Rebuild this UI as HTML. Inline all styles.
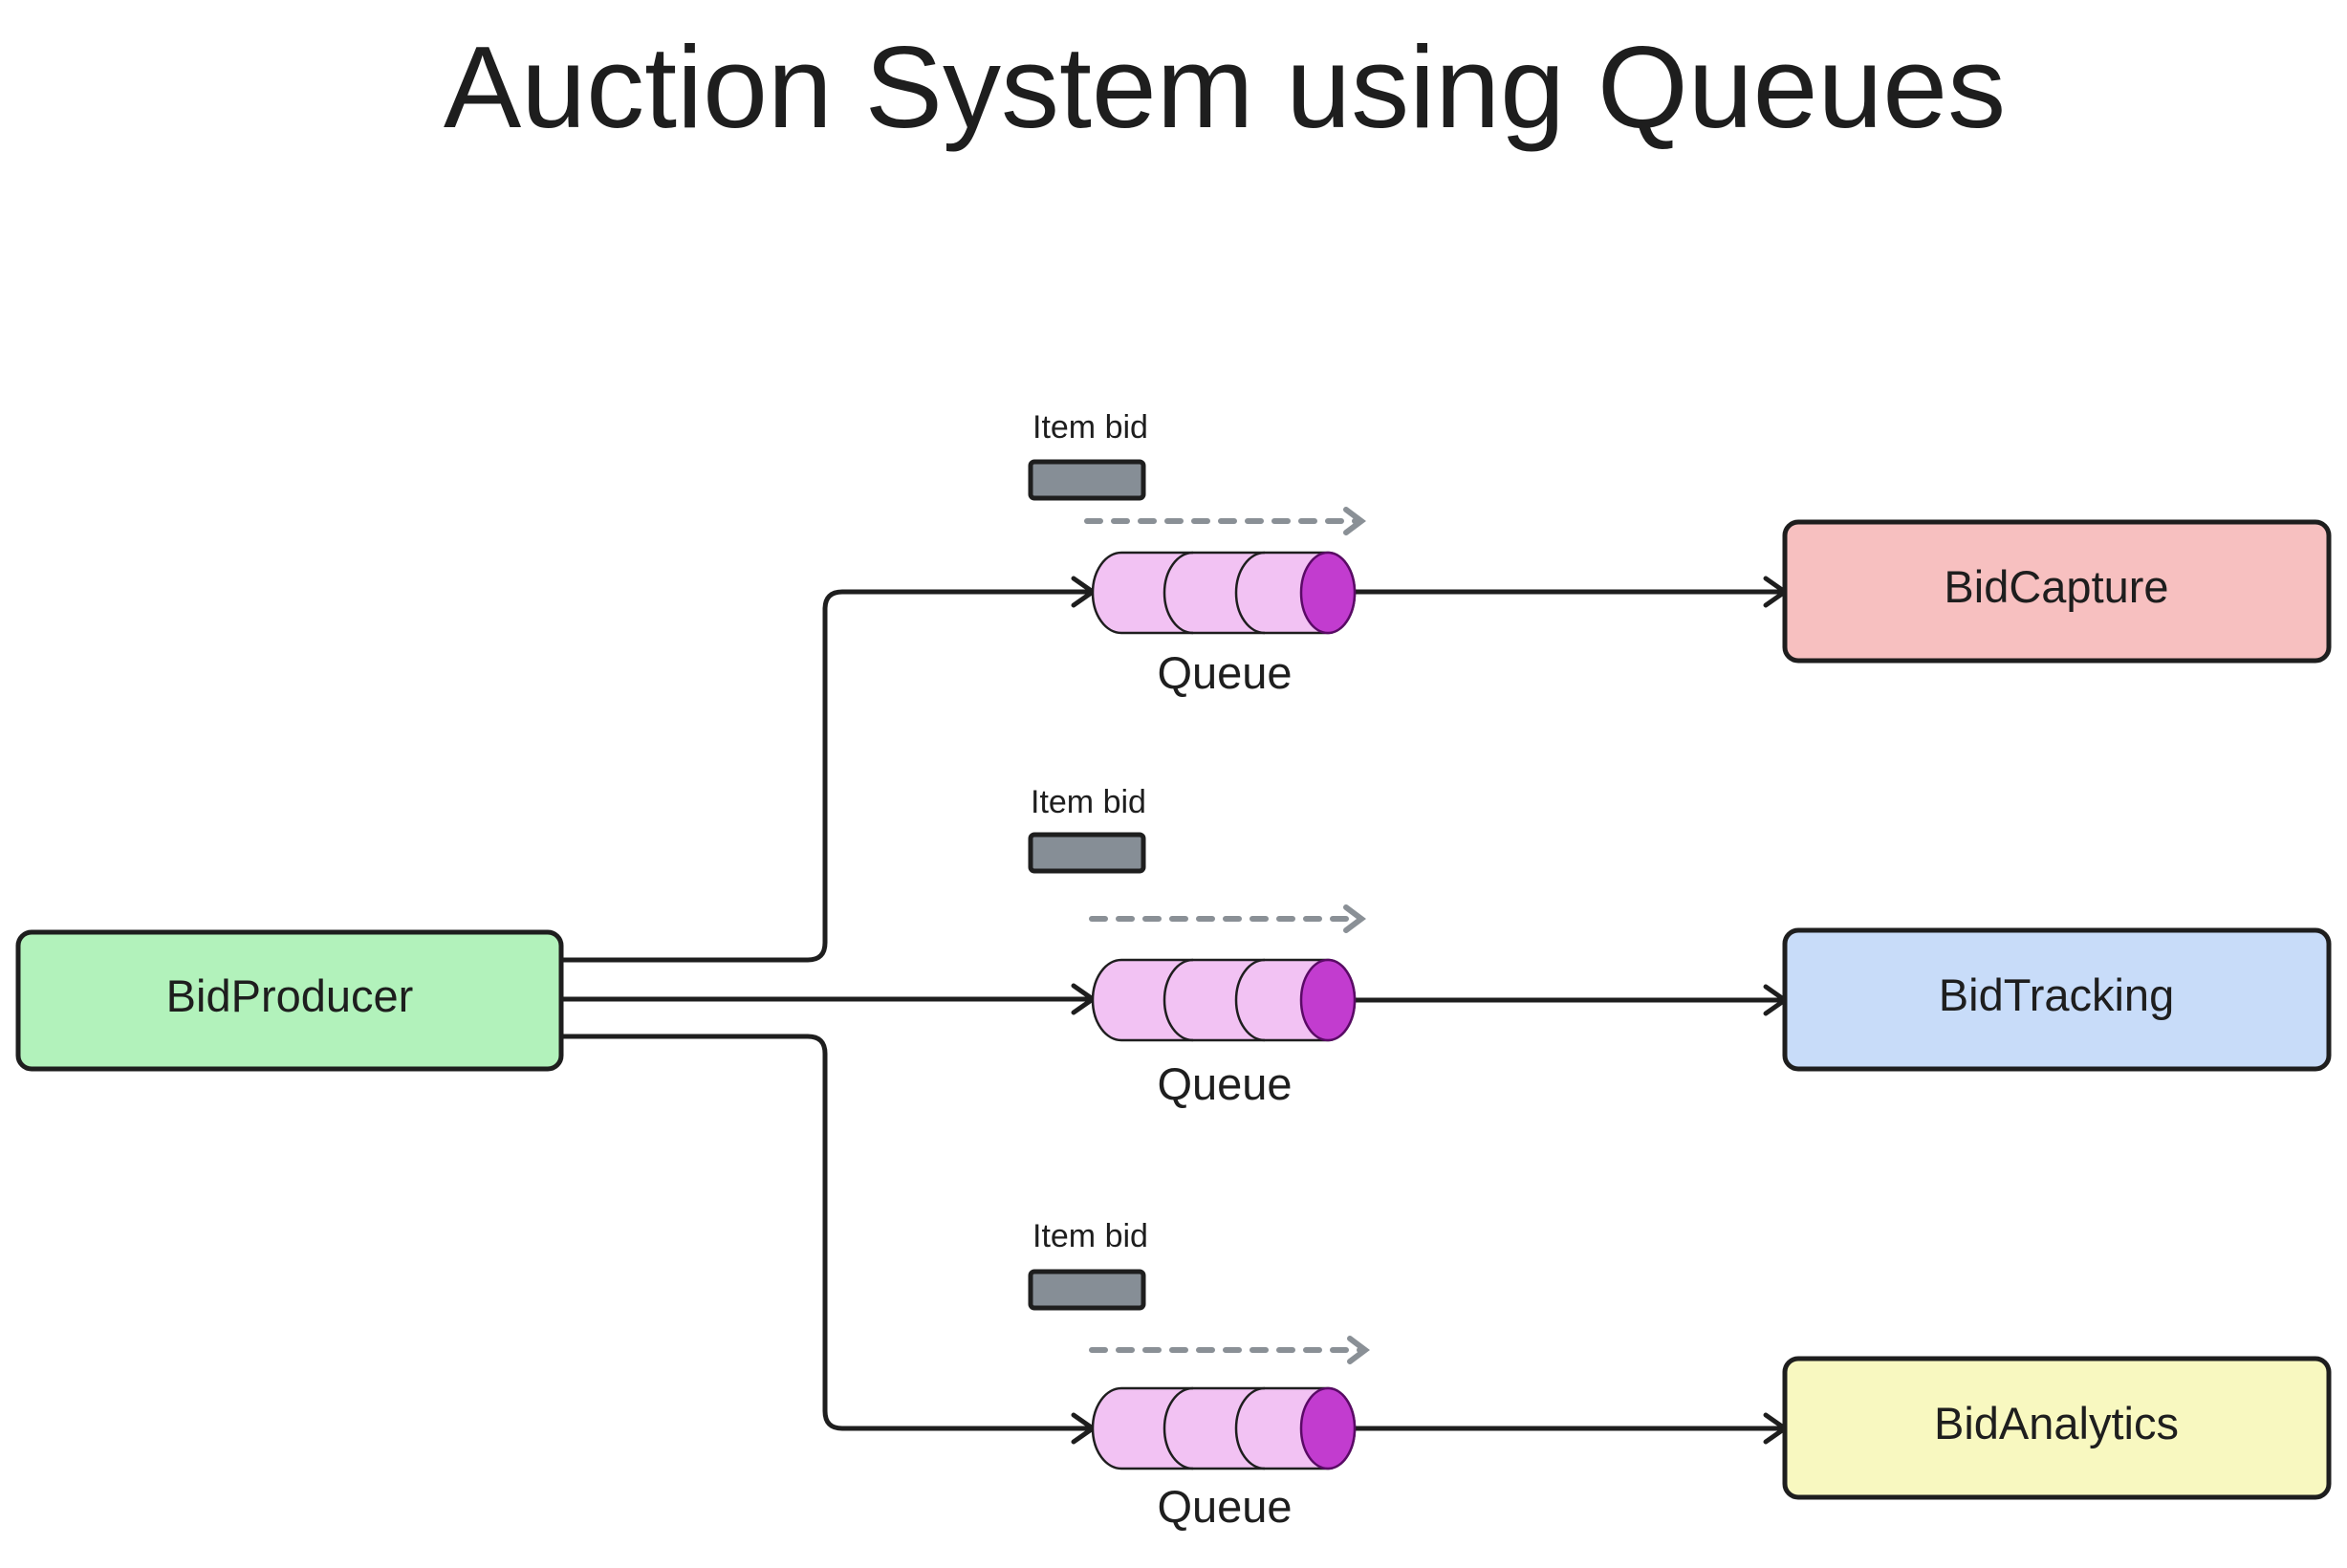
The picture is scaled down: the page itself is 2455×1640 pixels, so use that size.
<!DOCTYPE html>
<html><head><meta charset="utf-8"><style>
html,body{margin:0;padding:0;background:#fff;}
svg text{font-family:"Liberation Sans",sans-serif;fill:#1e1e1e;}
</style></head><body>
<svg width="2455" height="1635" viewBox="0 0 2455 1635" xmlns="http://www.w3.org/2000/svg">
<defs>
<marker id="ah" markerWidth="12" markerHeight="12" refX="10" refY="6" orient="auto" markerUnits="userSpaceOnUse">
</marker>
<g id="queue">
  <path d="M30,0 H246 A28,42 0 0 1 246,84 H30 A30,42 0 0 1 30,0 Z" fill="#f2c2f3" stroke="#1e1e1e" stroke-width="2.5"/>
  <path d="M105,0 A30,42 0 0 0 105,84" fill="none" stroke="#1e1e1e" stroke-width="2.5"/>
  <path d="M180,0 A30,42 0 0 0 180,84" fill="none" stroke="#1e1e1e" stroke-width="2.5"/>
  <ellipse cx="246" cy="42" rx="28" ry="42" fill="#c23ccf" stroke="#5a0a66" stroke-width="2.5"/>
</g>
</defs>
<text x="1281" y="133" font-size="122" text-anchor="middle">Auction System using Queues</text>

<g fill="none" stroke="#1e1e1e" stroke-width="5" stroke-linecap="round" stroke-linejoin="round">
  <path d="M587,1004 H845 Q863,1004 863,986 V637 Q863,619 881,619 H1143"/>
  <path d="M587,1045 H1143"/>
  <path d="M587,1084 H845 Q863,1084 863,1102 V1476 Q863,1494 881,1494 H1143"/>
  <path d="M1417,619 H1867"/><path d="M1417,1046 H1867"/><path d="M1417,1494 H1867"/>
  <path d="M1123,605 L1143,619 L1123,633"/>
  <path d="M1123,1031 L1143,1045 L1123,1059"/>
  <path d="M1123,1480 L1143,1494 L1123,1508"/>
  <path d="M1847,605 L1867,619 L1847,633"/>
  <path d="M1847,1032 L1867,1046 L1847,1060"/>
  <path d="M1847,1480 L1867,1494 L1847,1508"/>
</g>

<g stroke="#8a9096" stroke-width="6" fill="none" stroke-linecap="round">
  <path d="M1137,545 H1420" stroke-dasharray="14,14"/>
  <path d="M1408,533 L1424,545 L1408,557"/>
  <path d="M1142,961 H1420" stroke-dasharray="14,14"/>
  <path d="M1408,949 L1424,961 L1408,973"/>
  <path d="M1142,1412 H1424" stroke-dasharray="14,14"/>
  <path d="M1412,1400 L1428,1412 L1412,1424"/>
</g>

<use href="#queue" x="1143" y="578"/>
<use href="#queue" x="1143" y="1004"/>
<use href="#queue" x="1143" y="1452"/>

<g font-size="47" text-anchor="middle">
<text x="1281" y="720">Queue</text>
<text x="1281" y="1150">Queue</text>
<text x="1281" y="1592">Queue</text>
</g>
<g font-size="34">
<text x="1080" y="458">Item bid</text>
<text x="1078" y="850">Item bid</text>
<text x="1080" y="1304">Item bid</text>
</g>
<g fill="#868e96" stroke="#1e1e1e" stroke-width="5">
<rect x="1078" y="483" width="118" height="38" rx="4"/>
<rect x="1078" y="873" width="118" height="38" rx="4"/>
<rect x="1078" y="1330" width="118" height="38" rx="4"/>
</g>

<g stroke="#1e1e1e" stroke-width="5">
<rect x="19" y="975" width="568" height="143" rx="14" fill="#b2f2bb"/>
<rect x="1867" y="546" width="569" height="145" rx="14" fill="#f7c0c0"/>
<rect x="1867" y="973" width="569" height="145" rx="14" fill="#c8dcf9"/>
<rect x="1867" y="1421" width="569" height="145" rx="14" fill="#f8f8c0"/>
</g>
<g font-size="47" text-anchor="middle">
<text x="303" y="1058">BidProducer</text>
<text x="2151" y="630">BidCapture</text>
<text x="2151" y="1057">BidTracking</text>
<text x="2151" y="1505">BidAnalytics</text>
</g>
</svg>
</body></html>
